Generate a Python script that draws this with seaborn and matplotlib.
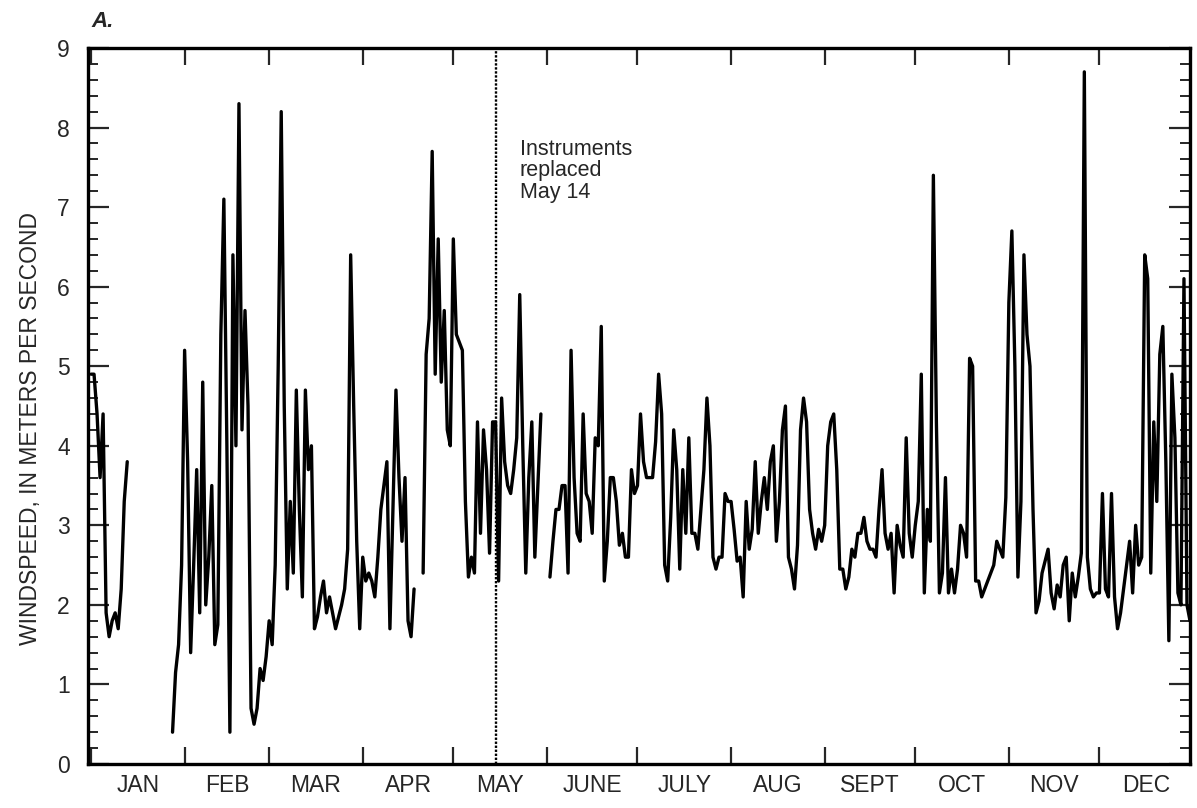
import numpy as np
import pandas as pd
import matplotlib
matplotlib.use("Agg")
import matplotlib.pyplot as plt
from matplotlib.ticker import FixedLocator, MultipleLocator, NullFormatter
import seaborn as sns

nan = np.nan

# daily mean windspeed (m/s), one list per month, nan = missing record
jan = [4.9, 4.9, 4.4, 3.6, 4.4, 1.9, 1.6, 1.8, 1.9, 1.7, 2.2, 3.3, 3.8,
       nan, nan, nan, nan, nan, nan, nan, nan, nan, nan, nan, nan, nan, nan,
       0.4, 1.15, 1.5, 2.5]
feb = [5.2, 3.8, 1.4, 2.5, 3.7, 1.9, 4.8, 2.0, 2.6, 3.5, 1.5, 1.75, 5.4, 7.1,
       4.0, 0.4, 6.4, 4.0, 8.3, 4.2, 5.7, 4.5, 0.7, 0.5, 0.7, 1.2, 1.05, 1.35]
mar = [1.8, 1.5, 2.5, 5.0, 8.2, 4.5, 2.2, 3.3, 2.4, 4.7, 3.2, 2.1, 4.7, 3.7,
       4.0, 1.7, 1.85, 2.1, 2.3, 1.9, 2.1, 1.9, 1.7, 1.85, 2.0, 2.2, 2.7, 6.4,
       4.5, 2.8, 1.7]
apr = [2.6, 2.3, 2.4, 2.3, 2.1, 2.6, 3.2, 3.5, 3.8, 1.7, 3.2, 4.7, 3.6, 2.8,
       3.6, 1.8, 1.6, 2.2, nan, nan, 2.4, 5.15, 5.6, 7.7, 4.9, 6.6, 4.8, 5.7,
       4.2, 4.0]
may = [6.6, 5.4, 5.3, 5.2, 3.3, 2.35, 2.6, 2.4, 4.3, 2.9, 4.2, 3.7, 2.65, 4.3,
       4.3, 2.3, 4.6, 3.8, 3.5, 3.4, 3.7, 4.1, 5.9, 4.0, 2.4, 3.6, 4.3, 2.6,
       3.5, 4.4, nan]
jun = [nan, 2.35, 2.8, 3.2, 3.2, 3.5, 3.5, 2.4, 5.2, 3.6, 2.9, 2.8, 4.4, 3.4,
       3.3, 2.9, 4.1, 4.0, 5.5, 2.3, 2.8, 3.6, 3.6, 3.3, 2.75, 2.9, 2.6, 2.6,
       3.7, 3.4]
jul = [3.5, 4.4, 3.8, 3.6, 3.6, 3.6, 4.05, 4.9, 4.4, 2.5, 2.3, 3.1, 4.2, 3.7,
       2.45, 3.7, 2.9, 4.1, 2.9, 2.9, 2.7, 3.2, 3.7, 4.6, 4.0, 2.6, 2.45, 2.6,
       2.6, 3.4, 3.3]
aug = [3.3, 2.95, 2.55, 2.6, 2.1, 3.3, 2.7, 2.95, 3.8, 2.9, 3.3, 3.6, 3.2, 3.8,
       4.0, 2.8, 3.3, 4.2, 4.5, 2.6, 2.45, 2.2, 2.75, 4.2, 4.6, 4.3, 3.2, 2.9,
       2.7, 2.95, 2.8]
sep = [3.0, 4.0, 4.3, 4.4, 3.7, 2.45, 2.45, 2.2, 2.35, 2.7, 2.6, 2.9, 2.9, 3.1,
       2.8, 2.7, 2.7, 2.6, 3.2, 3.7, 2.9, 2.7, 2.9, 2.15, 3.0, 2.75, 2.6, 4.1,
       2.9, 2.6]
oct_ = [3.0, 3.3, 4.9, 2.15, 3.2, 2.8, 7.4, 4.3, 2.15, 2.4, 3.6, 2.15, 2.45,
        2.15, 2.45, 3.0, 2.9, 2.6, 5.1, 5.0, 2.3, 2.3, 2.1, 2.2, 2.3, 2.4, 2.5,
        2.8, 2.7, 2.6, 3.35]
nov = [5.8, 6.7, 5.0, 2.35, 3.3, 6.4, 5.4, 5.0, 3.2, 1.9, 2.05, 2.4, 2.55, 2.7,
       2.15, 1.95, 2.25, 2.1, 2.5, 2.6, 1.8, 2.4, 2.1, 2.35, 2.65, 8.7, 2.6,
       2.2, 2.1, 2.15]
dec = [2.15, 3.4, 2.2, 2.1, 3.4, 2.1, 1.7, 1.9, 2.2, 2.5, 2.8, 2.15, 3.0, 2.5,
       2.6, 6.4, 6.1, 2.4, 4.3, 3.3, 5.15, 5.5, 3.8, 1.55, 4.9, 4.1, 2.15, 2.0,
       6.1, 2.0, 1.8]

month_labels = ["JAN", "FEB", "MAR", "APR", "MAY", "JUNE", "JULY", "AUG",
                "SEPT", "OCT", "NOV", "DEC"]
month_start = [1, 32, 60, 91, 121, 152, 182, 213, 244, 274, 305, 335]
year_end = 366
replaced_day = 135
note = "Instruments\nreplaced\nMay 14"

speed = np.concatenate([jan, feb, mar, apr, may, jun, jul, aug, sep, oct_,
                        nov, dec])
df = pd.DataFrame({"doy": np.arange(1, len(speed) + 1), "speed": speed})
# break the line where records are missing
df["segment"] = df["speed"].isna().cumsum()
df = df.dropna()

sns.set_style("ticks")
plt.rcParams["font.family"] = ["Liberation Sans", "DejaVu Sans"]

fig = plt.figure(figsize=(11.97, 8.08), dpi=100)
ax = fig.add_axes([88 / 1197, 44 / 808, 1102 / 1197, 716 / 808])

sns.lineplot(data=df, x="doy", y="speed", units="segment", estimator=None,
             color="black", linewidth=2.4, ax=ax)
ax.axvline(replaced_day, color="black", linewidth=1.7, linestyle=(0, (1, 0.7)))
ax.text(replaced_day + 8, 7.86, note, fontsize=15.5, va="top", ha="left",
        linespacing=1.05)

ax.set_xlim(0, 365)
ax.set_ylim(0, 9)

mids = [(a + b) / 2 for a, b in zip(month_start, month_start[1:] + [year_end])]
ax.xaxis.set_major_locator(FixedLocator(month_start))
ax.xaxis.set_major_formatter(NullFormatter())
ax.xaxis.set_minor_locator(FixedLocator(mids))
ax.set_xticklabels(month_labels, minor=True)
ax.tick_params(axis="x", which="major", direction="in", length=12, width=1.6,
               top=True, bottom=True)
ax.tick_params(axis="x", which="minor", length=0, pad=7, labelsize=16.5)

ax.yaxis.set_major_locator(MultipleLocator(1))
ax.yaxis.set_minor_locator(MultipleLocator(0.2))
ax.tick_params(axis="y", which="major", direction="in", length=15, width=1.6,
               left=True, right=True, labelsize=16.5, pad=13)
ax.tick_params(axis="y", which="minor", direction="in", length=7, width=1.4,
               left=True, right=True)

for sp in ax.spines.values():
    sp.set_linewidth(2.4)
    sp.set_color("black")

ax.set_xlabel("")
ax.set_ylabel("WINDSPEED, IN METERS PER SECOND", fontsize=16.5)
ax.yaxis.set_label_coords(-0.042, 0.468)

fig.text(91 / 1197, 1 - 27 / 808, "A.", fontsize=16, fontweight="bold",
         fontstyle="italic", va="baseline")

fig.savefig("out.png", dpi=100)
